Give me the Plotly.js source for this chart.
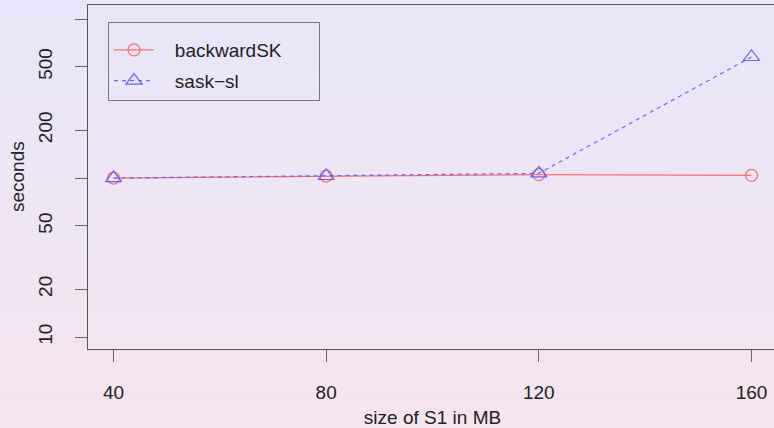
<!DOCTYPE html>
<html><head><meta charset="utf-8">
<script src="https://cdn.plot.ly/plotly-3.0.1.min.js"></script>
<style>
html,body{margin:0;padding:0;overflow:hidden;width:774px;height:428px;}
body{background:linear-gradient(to bottom,#e8e6fa 0%,#f6e4ee 100%);}
#chart{width:777px;height:428px;}
</style></head><body>
<div id="chart"></div>
<script>
const sizes = [40, 80, 120, 160];
const backwardSK = [100, 103, 105, 104];
const saskSl = [100, 103, 107, 577];
const seriesNames = ["backwardSK", "sask\u2212sl"];
const yTickVals = [10, 20, 50, 100, 200, 500, 1000];
const yTickText = ["10", "20", "50", "", "200", "500", ""];
const xTickVals = [40, 80, 120, 160];

const font = {family: "Liberation Sans, Arial, sans-serif", size: 19, color: "#222"};
const pad = s => "\u00a0\u00a0\u00a0" + s + "\u00a0\u00a0\u00a0\u00a0\u00a0\u00a0";
const traces = [
  {x: sizes, y: backwardSK, name: pad(seriesNames[0]), legendgroup: "a", mode: "lines+markers",
   line: {color: "rgba(255,90,90,0.85)", width: 1.2},
   marker: {symbol: "circle-open", size: 12, color: "rgba(255,90,90,0.9)", line: {width: 1.2}}},
  {x: sizes, y: saskSl, name: pad(seriesNames[1]), legendgroup: "b", mode: "lines+markers",
   line: {color: "rgba(90,90,255,0.9)", width: 1.2, dash: "4px,4px"},
   marker: {symbol: "triangle-up-open", size: 14, color: "rgba(90,90,255,0.95)", line: {width: 1.2}}}
];
const layout = {
  width: 777, height: 428,
  margin: {l: 88, r: 0, t: 5, b: 79},
  paper_bgcolor: "rgba(0,0,0,0)", plot_bgcolor: "rgba(0,0,0,0)",
  font: font,
  showlegend: true,
  legend: {x: 0.029, y: 0.95, xanchor: "left", yanchor: "top",
    bgcolor: "rgba(0,0,0,0)", bordercolor: "#777", borderwidth: 1,
    font: font, itemwidth: 40, traceorder: "grouped", tracegroupgap: 3,
    title: {text: "\u00a0", font: {size: 6}}},
  xaxis: {range: [35.2, 164.8], tickvals: xTickVals, ticks: "outside", ticklen: 12,
    tickcolor: "#666", showgrid: false, zeroline: false, showline: true, mirror: true,
    linecolor: "#555", linewidth: 1, tickfont: font, ticklabelstandoff: 14,
    title: {text: "size of S1 in MB", font: font, standoff: 8}},
  yaxis: {type: "log", range: [0.925, 3.088], tickvals: yTickVals, ticktext: yTickText,
    ticks: "outside", ticklen: 12, tickcolor: "#666", tickangle: -90,
    showgrid: false, zeroline: false, showline: true, mirror: true,
    linecolor: "#555", linewidth: 1, tickfont: font, ticklabelstandoff: 15},
  annotations: [{text: "seconds", xref: "paper", yref: "paper", x: -0.103, y: 0.5,
    xanchor: "center", yanchor: "middle", textangle: -90, showarrow: false, font: font}]
};
Plotly.newPlot("chart", traces, layout, {displayModeBar: false, staticPlot: true});
</script></body></html>
